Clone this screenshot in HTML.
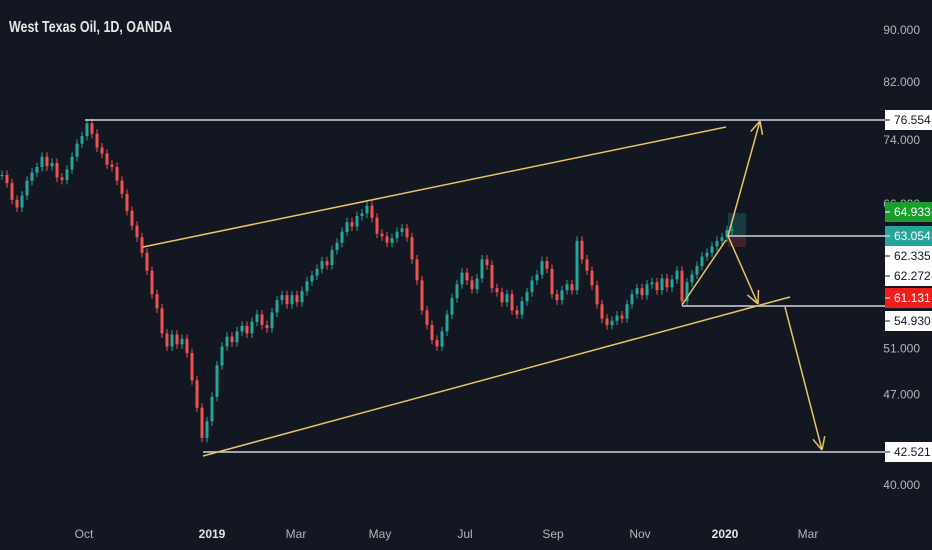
<!DOCTYPE html>
<html><head><meta charset="utf-8"><style>
html,body{margin:0;padding:0;background:#131722;width:932px;height:550px;overflow:hidden}
svg{display:block}
text{font-family:"Liberation Sans",sans-serif}
</style></head><body>
<svg id="chart" width="932" height="550" viewBox="0 0 932 550">
<rect x="0" y="0" width="932" height="550" fill="#131722"/>
<text x="9" y="32" fill="#e6e6e6" font-size="16" font-weight="bold" textLength="163" lengthAdjust="spacingAndGlyphs">West Texas Oil, 1D, OANDA</text>
<g id="candles"></g>
<g id="ann"></g>
<g id="yaxis"></g>
<g id="xaxis"></g>
</svg>
<script>
const closes=[69.5,68.5,66.5,65.6,67,68.8,69.8,70.5,71.8,70.6,71,69.2,68.9,70.2,71.8,73.5,74.5,76.2,74.8,73,72.2,70.8,70.5,68.8,67.2,65.2,63.5,62.2,60.5,58.6,56.2,54.8,52.4,51.2,52.3,51.4,51.9,50.6,48.2,45.9,43.5,44.8,46.8,49.5,51.2,52.1,51.6,52.6,53.1,52.4,53.5,54.2,53.2,52.9,54.4,55.6,56.1,55.2,56.1,55.4,56.5,57.5,58.1,58.8,59.6,59.2,60.8,61.6,62.8,63.9,63.4,64.6,64.9,65.8,64.4,62.6,62.3,61.6,62.1,62.8,63.2,62.2,59.8,57.6,54.6,53.2,51.8,51.2,52.6,54.2,55.8,57.2,58.4,57.6,56.7,57.8,59.8,59.2,56.8,56.4,55.4,56.2,54.6,54.2,55.5,56.4,57.6,58.2,59.6,58.8,56.2,55.6,56.6,57.2,56.6,61.8,59.8,58.6,57.1,55.2,53.8,53.2,53.6,54.1,53.8,55.2,56.2,56.8,56.1,57.2,57.4,56.6,57.8,56.9,57.7,58.6,55.5,57.4,58.2,59.1,60.1,60.5,61.2,61.8,62.2,63.0,63.05];
const yTicks=[90,82,74,66,51,47,40];
const xLabels=["Oct","2019","Mar","May","Jul","Sep","Nov","2020","Mar"];
const xLabelPos=[84,212,296,380,465,553,640,725,808];
const xBold=[false,true,false,false,false,false,false,true,false];
const priceLabels=[76.554,64.933,63.054,62.335,62.272,61.131,54.930,42.521];
const priceLabelY=[120,212,236,256,276,298,321,452];
const priceLabelBg=["#ffffff","#1b9e2d","#26a69a","#ffffff","#ffffff","#f01d1d","#ffffff","#ffffff"];
const priceLabelFg=["#131722","#ffffff","#ffffff","#131722","#131722","#ffffff","#131722","#131722"];
const NS="http://www.w3.org/2000/svg";
function y(p){return 30+Math.log(90/p)*561;}
function x(i){return 2+i*5;}
function y2p(py){return 90*Math.exp(-(py-30)/561);}
function mk(tag,attrs,parent){const e=document.createElementNS(NS,tag);for(const k in attrs)e.setAttribute(k,attrs[k]);parent.appendChild(e);return e;}
const cg=document.getElementById('candles');
closes.forEach((c,i)=>{
  const o=i===0?c:closes[i-1];
  const up=c>=o;const col=up?'#26a69a':'#ef5350';
  const hi=Math.max(o,c)*1.008, lo=Math.min(o,c)*0.992;
  const g=mk('g',{},cg);
  
  
  mk('line',{x1:x(i),x2:x(i),y1:y(hi),y2:y(lo),stroke:col,'stroke-width':1},g);
  const top=y(Math.max(o,c)),bot=y(Math.min(o,c));
  mk('rect',{x:x(i)-1.5,y:top,width:3,height:Math.max(1,bot-top),fill:col},g);
});
const ag=document.getElementById('ann');
const W='#d1d4dc',Y='#e8c468';
function ln(x1,p1,x2,p2,col,name){const l=mk('line',{x1:x1,y1:y(p1),x2:x2,y2:y(p2),stroke:col,'stroke-width':1.5},ag);return l;}
function arrow(x1,p1,x2,p2,name){ln(x1,p1,x2,p2,Y,name);const X1=x1,Y1=y(p1),X2=x2,Y2=y(p2);const a=Math.atan2(Y2-Y1,X2-X1);[0.45,-0.45].forEach(d=>{mk('line',{x1:X2,y1:Y2,x2:X2-14*Math.cos(a+d),y2:Y2-14*Math.sin(a+d),stroke:Y,'stroke-width':1.5},ag);});}
const pb1=mk('rect',{x:728,y:213,width:18,height:23,fill:'rgba(38,166,154,0.25)'},ag);

const pb2=mk('rect',{x:728,y:236,width:18,height:11,fill:'rgba(239,83,80,0.2)'},ag);

ln(85,y2p(120),885,y2p(120),W,'hline-76-554');
ln(728,y2p(236),885,y2p(236),W,'hline-63-054');
ln(682,y2p(306),885,y2p(306),W,'hline-54-930');
ln(203,y2p(452),885,y2p(452),W,'hline-42-521');
ln(143,y2p(247),726,y2p(127),Y,'upper-channel');
ln(203,y2p(456),790,y2p(297),Y,'lower-channel');
ln(682,y2p(305),726,y2p(240),Y,'rally-line');
arrow(728,y2p(236),760,y2p(121),'target-up-arrow');
arrow(728,y2p(236),758,y2p(304),'drop-arrow');
arrow(785,y2p(307),822,y2p(450),'target-down-arrow');
const yg=document.getElementById('yaxis');
yTicks.forEach(t=>{const tx=mk('text',{x:920,y:y(t)+4,fill:'#b2b5be','font-size':12,'text-anchor':'end'},yg);tx.textContent=t.toFixed(3);});
priceLabels.forEach((p,i)=>{const cy=priceLabelY[i];
 const r=mk('rect',{x:885,y:cy-10,width:47,height:20,fill:priceLabelBg[i]},yg);
 mk('line',{x1:885,x2:890,y1:cy,y2:cy,stroke:priceLabelFg[i],'stroke-width':1},yg);
 const tx=mk('text',{x:894,y:cy+4,fill:priceLabelFg[i],'font-size':12},yg);tx.textContent=p.toFixed(3);});
const xg=document.getElementById('xaxis');
xLabels.forEach((l,i)=>{const tx=mk('text',{x:xLabelPos[i],y:538,fill:xBold[i]?'#e6e6e6':'#b2b5be','font-size':12,'font-weight':xBold[i]?'bold':'normal','text-anchor':'middle'},xg);tx.textContent=l;});
</script>
</body></html>
